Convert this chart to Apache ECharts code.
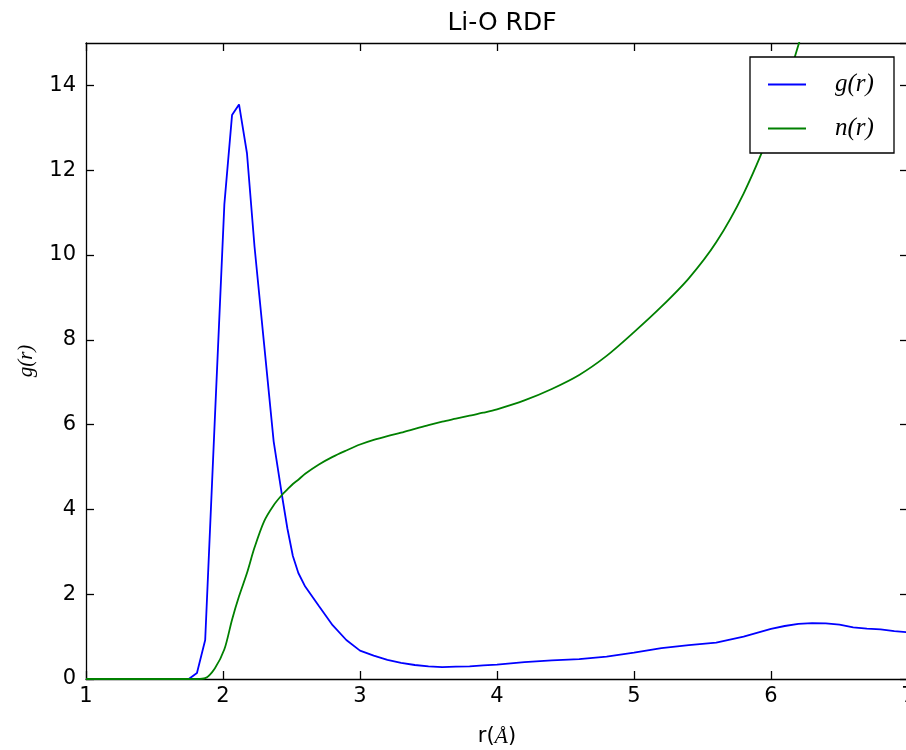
<!DOCTYPE html>
<html>
<head>
<meta charset="utf-8">
<script src="https://cdn.jsdelivr.net/npm/echarts@6/dist/echarts.min.js"></script>
<style>html,body{margin:0;padding:0;background:#fff}#c{width:906px;height:750px}</style>
</head>
<body>
<div id="c"></div>
<script>
const rValues = [1.0, 1.5, 1.75, 1.81, 1.87, 1.94, 2.01, 2.066, 2.117, 2.175, 2.23, 2.3, 2.37, 2.43, 2.47, 2.51, 2.55, 2.6, 2.7, 2.8, 2.9, 3.0, 3.1, 3.2, 3.3, 3.4, 3.5, 3.6, 3.7, 3.8, 3.9, 4.0, 4.2, 4.4, 4.6, 4.8, 5.0, 5.2, 5.4, 5.6, 5.8, 6.0, 6.1, 6.2, 6.3, 6.4, 6.5, 6.6, 6.7, 6.8, 6.9, 7.0];
const gValues = [0, 0, 0, 0.14, 0.92, 6.1, 11.2, 13.3, 13.55, 12.4, 10.2, 7.9, 5.6, 4.34, 3.55, 2.9, 2.5, 2.18, 1.72, 1.27, 0.92, 0.67, 0.55, 0.45, 0.38, 0.33, 0.3, 0.28, 0.29, 0.3, 0.32, 0.34, 0.4, 0.44, 0.47, 0.53, 0.62, 0.73, 0.8, 0.86, 1.0, 1.18, 1.25, 1.3, 1.32, 1.31, 1.28, 1.22, 1.19, 1.17, 1.13, 1.1];
const nValues = [0, 0, 0, 0, 0.02, 0.25, 0.7, 1.4, 1.95, 2.5, 3.1, 3.72, 4.1, 4.34, 4.47, 4.6, 4.7, 4.84, 5.06, 5.24, 5.39, 5.53, 5.64, 5.73, 5.81, 5.9, 5.99, 6.07, 6.14, 6.21, 6.28, 6.36, 6.57, 6.84, 7.17, 7.62, 8.18, 8.78, 9.45, 10.3, 11.45, 12.95, 13.9, 14.95, 16.1, null, null, null, null, null, null, null];
const seriesNames = ['g(r)', 'n(r)'];
const xTicks = [1, 2, 3, 4, 5, 6, 7];
const yTicks = [0, 2, 4, 6, 8, 10, 12, 14];

const toPairs = (xs, ys) => xs.map((x, i) => [x, ys[i]]);
const mathFont = '"Liberation Serif", "DejaVu Serif", serif';
const sans = '"DejaVu Sans", sans-serif';

const chart = echarts.init(document.getElementById('c'), null, {renderer: 'canvas'});
const axisLineStyle = {color: '#000', width: 1.3};
chart.setOption({
  animation: false,
  backgroundColor: '#fff',
  title: {
    text: 'Li-O RDF',
    left: 497, top: 6, textAlign: 'center',
    textStyle: {fontFamily: sans, fontSize: 25, fontWeight: 'normal', color: '#000'}
  },
  grid: {left: 86, top: 43, width: 822, height: 636, containLabel: false, outerBoundsMode: 'none'},
  legend: {
    orient: 'vertical',
    left: 750, top: 57,
    padding: [15, 13, 12, 18],
    itemGap: 19,
    itemWidth: 38, itemHeight: 2,
    icon: 'rect',
    borderColor: '#000', borderWidth: 1.3,
    backgroundColor: '#fff',
    data: seriesNames,
    formatter: name => '{m|' + name + '}',
    textStyle: {
      rich: {
        m: {fontFamily: mathFont, fontStyle: 'italic', fontSize: 25, color: '#000', padding: [0, 0, 0, 24], width: 46, lineHeight: 26}
      }
    }
  },
  xAxis: [{
    type: 'value', min: xTicks[0], max: xTicks[xTicks.length - 1], interval: 1, position: 'bottom',
    axisLine: {show: true, onZero: false, lineStyle: axisLineStyle},
    axisTick: {show: true, inside: true, length: 8, lineStyle: axisLineStyle},
    axisLabel: {fontFamily: sans, fontSize: 21, color: '#000', margin: 7},
    splitLine: {show: false},
    name: '{a|r(}{b|Å}{a|)}',
    nameLocation: 'middle', nameGap: 47,
    nameTextStyle: {
      rich: {
        a: {fontFamily: sans, fontSize: 21, color: '#000'},
        b: {fontFamily: mathFont, fontStyle: 'italic', fontSize: 22, color: '#000'}
      }
    }
  }, {
    type: 'value', min: xTicks[0], max: xTicks[xTicks.length - 1], interval: 1, position: 'top',
    axisLine: {show: true, onZero: false, lineStyle: axisLineStyle},
    axisTick: {show: true, inside: true, length: 8, lineStyle: axisLineStyle},
    axisLabel: {show: false},
    splitLine: {show: false}
  }],
  yAxis: [{
    type: 'value', min: 0, max: 15, interval: 2, position: 'left',
    axisLine: {show: true, onZero: false, lineStyle: axisLineStyle},
    axisTick: {show: true, inside: true, length: 8, lineStyle: axisLineStyle},
    axisLabel: {fontFamily: sans, fontSize: 21, color: '#000', margin: 10, showMaxLabel: false},
    splitLine: {show: false},
    name: 'g(r)', nameLocation: 'middle', nameRotate: 90, nameGap: 49,
    nameTextStyle: {fontFamily: mathFont, fontStyle: 'italic', fontSize: 21, color: '#000'}
  }, {
    type: 'value', min: 0, max: 15, interval: 2, position: 'right',
    axisLine: {show: true, onZero: false, lineStyle: axisLineStyle},
    axisTick: {show: true, inside: true, length: 8, lineStyle: axisLineStyle},
    axisLabel: {show: false},
    splitLine: {show: false}
  }],
  series: [{
    name: seriesNames[0], type: 'line', xAxisIndex: 0, yAxisIndex: 0,
    data: toPairs(rValues, gValues),
    showSymbol: false, symbol: 'none', smooth: false, clip: true,
    lineStyle: {color: '#0000ff', width: 1.8},
    itemStyle: {color: '#0000ff'}, z: 2
  }, {
    name: seriesNames[1], type: 'line', xAxisIndex: 0, yAxisIndex: 0,
    data: toPairs(rValues, nValues),
    showSymbol: false, symbol: 'none', smooth: 0.3, clip: true, connectNulls: false,
    lineStyle: {color: '#008000', width: 1.8},
    itemStyle: {color: '#008000'}, z: 2
  }]
});
</script>
</body>
</html>
